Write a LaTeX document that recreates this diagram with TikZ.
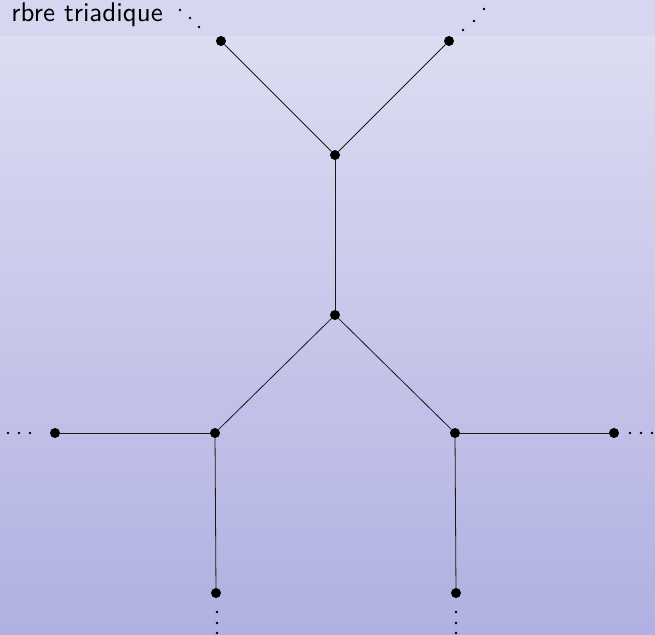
\documentclass[tikz,border=0pt]{standalone}
\usepackage{fontspec}
\newfontfamily\titlesf{lmsans10-regular}[Extension=.otf]
\usetikzlibrary{calc}
\definecolor{stripc}{RGB}{214,214,240}
\definecolor{topc}{RGB}{220,220,242}
\definecolor{botc}{RGB}{176,176,226}
\tikzset{
  vtx/.style={circle,fill=black,inner sep=0pt,minimum size=10pt},
  edge/.style={line width=0.8pt,black!90},
  dotc/.style={fill=black}
}
\begin{document}
\begin{tikzpicture}[x=1pt,y=-1pt]
\useasboundingbox (0,0) rectangle (655,634);
\shade[top color=topc,bottom color=botc] (0,36) rectangle (655,634);
\fill[stripc] (0,0) rectangle (655,36);
\node[anchor=base east,inner sep=0pt,font=\fontsize{27}{32}\titlesf] (title) at (163,22) {rbre triadique};
% vertices
\node[vtx] (tl) at (221,41) {};
\node[vtx] (tr) at (449,41) {};
\node[vtx] (u) at (335,155) {};
\node[vtx] (c) at (335,315) {};
\node[vtx] (l) at (215,433) {};
\node[vtx] (r) at (455,433) {};
\node[vtx] (ll) at (55,433) {};
\node[vtx] (rr) at (614,433) {};
\node[vtx] (bl) at (216,593) {};
\node[vtx] (br) at (456,593) {};
% edges
\draw[edge] (tl) -- (u);
\draw[edge] (tr) -- (u);
\draw[edge] (u) -- (c);
\draw[edge] (c) -- (l);
\draw[edge] (c) -- (r);
\draw[edge] (l) -- (ll);
\draw[edge] (r) -- (rr);
\draw[edge] (l) -- (bl);
\draw[edge] (r) -- (br);
% dots
\foreach \p in {(180,10),(190,18),(199,27),(463,30),(474,21),(484,9),
  (8,433),(19,433),(30,433),(630,433),(641,433),(652,433),
  (217,612),(217,623),(217,633),(456,612),(456,623),(456,633)}
  \fill[dotc] \p circle (1.3);
\end{tikzpicture}
\end{document}
